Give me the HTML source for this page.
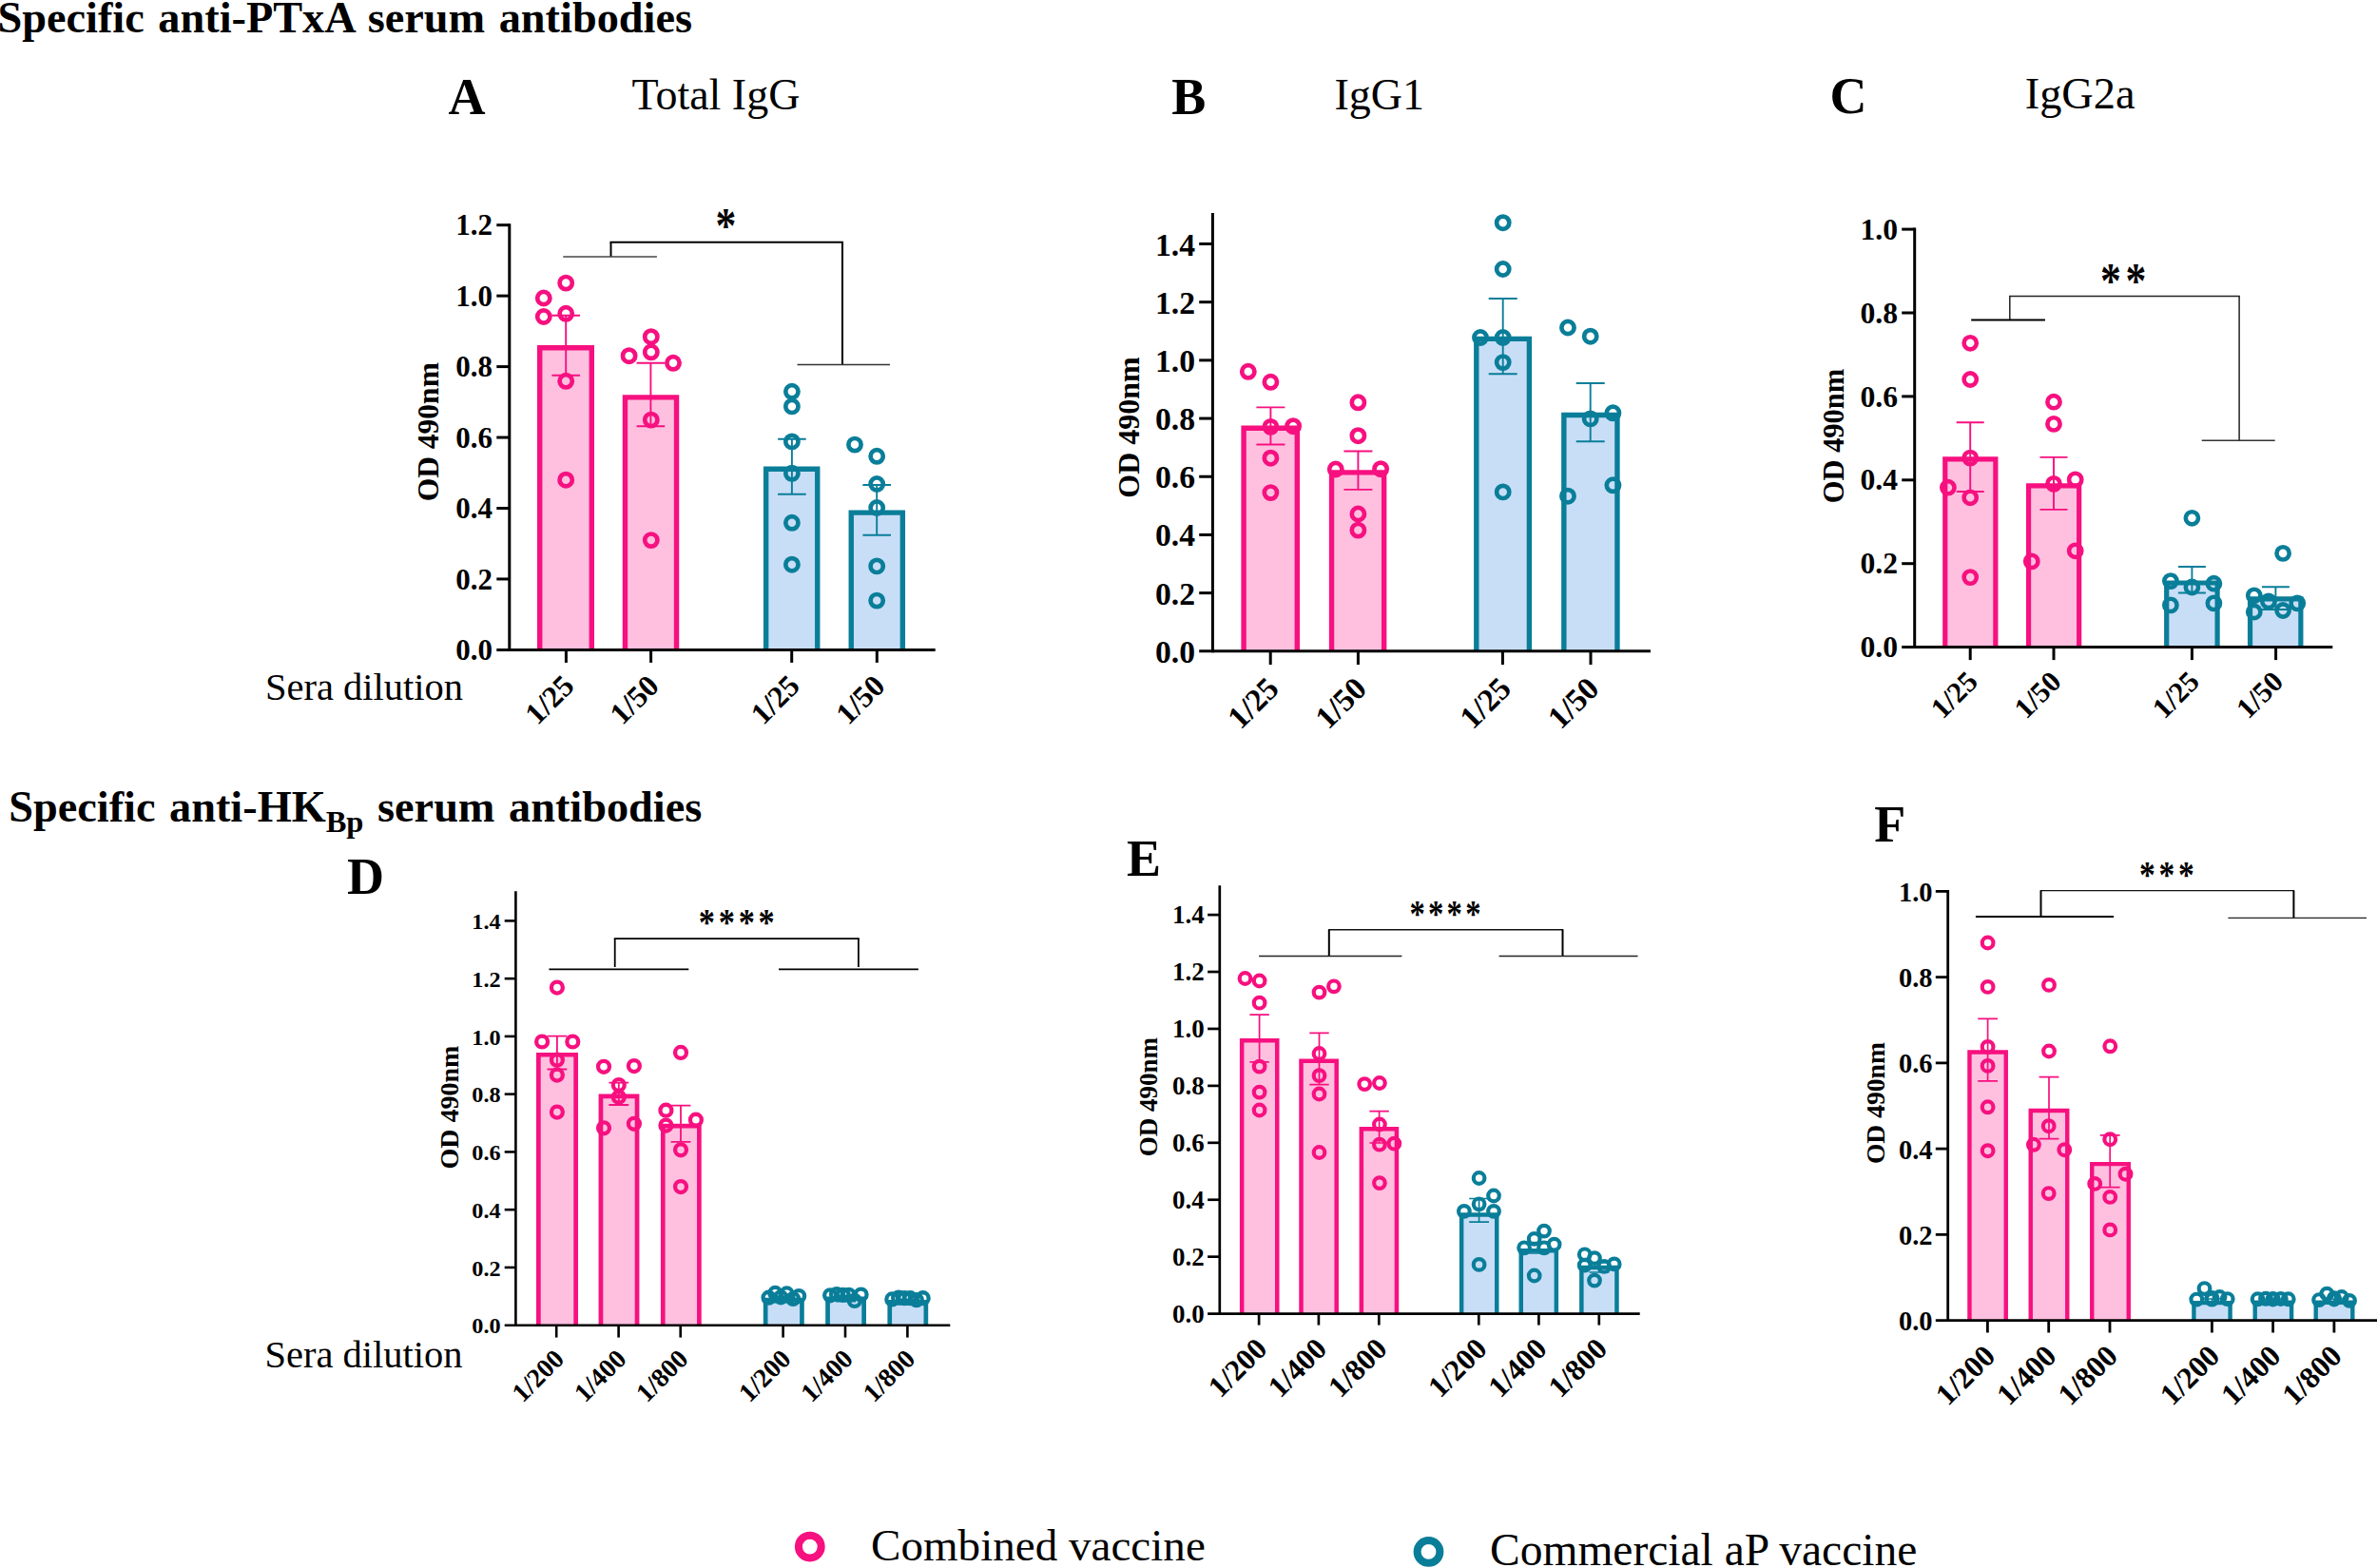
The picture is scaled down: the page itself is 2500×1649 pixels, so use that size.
<!DOCTYPE html>
<html lang="en"><head><meta charset="utf-8"><title>Specific serum antibodies</title>
<style>html,body{margin:0;padding:0;background:#fff}body{width:2500px;height:1649px;overflow:hidden}svg{display:block}text{font-family:'Liberation Serif', 'Times New Roman', Times, serif;fill:#000}</style></head><body>
<svg width="2500" height="1649" viewBox="0 0 2500 1649">
<rect width="2500" height="1649" fill="#fff"/>
<text x="-2.5" y="33.8" font-size="46.3" font-weight="bold" text-anchor="start" word-spacing="3">Specific anti-PTxA serum antibodies</text>
<text x="9.2" y="864" font-size="46.3" font-weight="bold" word-spacing="3">Specific anti-HK<tspan font-size="32.5" dy="10.8">Bp</tspan><tspan dy="-10.8"> serum antibodies</tspan></text>
<text x="471.4" y="119.7" font-size="54" font-weight="bold" text-anchor="start">A</text>
<text x="1232.3" y="119.7" font-size="54" font-weight="bold" text-anchor="start">B</text>
<text x="1924.4" y="119.2" font-size="54" font-weight="bold" text-anchor="start">C</text>
<text x="365" y="940" font-size="54" font-weight="bold" text-anchor="start">D</text>
<text x="1185.1" y="920.8" font-size="54" font-weight="bold" text-anchor="start">E</text>
<text x="1971.2" y="884.8" font-size="54" font-weight="bold" text-anchor="start">F</text>
<text x="664.5" y="114.6" font-size="46" text-anchor="start">Total IgG</text>
<text x="1403.5" y="114.6" font-size="46" text-anchor="start">IgG1</text>
<text x="2129.7" y="113.6" font-size="46.4" text-anchor="start">IgG2a</text>
<text x="279" y="736.2" font-size="40.5" text-anchor="start">Sera dilution</text>
<text x="278.5" y="1437.8" font-size="40.5" text-anchor="start">Sera dilution</text>
<g>
<path d="M567.7 683.4 V365.7 H622.3 V683.4" fill="#FFC0E0" stroke="#F7107F" stroke-width="5.4" stroke-linejoin="miter"/>
<path d="M657.45 683.4 V417.9 H711.55 V683.4" fill="#FFC0E0" stroke="#F7107F" stroke-width="5.4" stroke-linejoin="miter"/>
<path d="M805.65 683.4 V493.3 H859.75 V683.4" fill="#C8DEF7" stroke="#0A7E99" stroke-width="5.4" stroke-linejoin="miter"/>
<path d="M895.25 683.4 V539.1 H949.35 V683.4" fill="#C8DEF7" stroke="#0A7E99" stroke-width="5.4" stroke-linejoin="miter"/>
<path d="M595.2 331.8 V394.7 M580.4 331.8 H610 M580.4 394.7 H610" fill="none" stroke="#F7107F" stroke-width="1.9"/>
<path d="M684.4 381.8 V448.2 M669.6 381.8 H699.2 M669.6 448.2 H699.2" fill="none" stroke="#F7107F" stroke-width="1.9"/>
<path d="M832.9 461.8 V519.8 M818.1 461.8 H847.7 M818.1 519.8 H847.7" fill="none" stroke="#0A7E99" stroke-width="1.9"/>
<path d="M922.2 510 V562.7 M907.4 510 H937 M907.4 562.7 H937" fill="none" stroke="#0A7E99" stroke-width="1.9"/>
<g fill="none" stroke="#F7107F" stroke-width="4.7">
<circle cx="595.2" cy="297.6" r="6.6"/>
<circle cx="571.8" cy="313.5" r="6.6"/>
<circle cx="571.8" cy="333" r="6.6"/>
<circle cx="595.2" cy="329.8" r="6.6"/>
<circle cx="595.2" cy="400.8" r="6.6"/>
<circle cx="595.2" cy="504.7" r="6.6"/>
<circle cx="684.8" cy="354.2" r="6.6"/>
<circle cx="661.6" cy="374.2" r="6.6"/>
<circle cx="684.8" cy="370.3" r="6.6"/>
<circle cx="708" cy="381.8" r="6.6"/>
<circle cx="684.8" cy="441.6" r="6.6"/>
<circle cx="684.8" cy="568.1" r="6.6"/>
</g>
<g fill="none" stroke="#0A7E99" stroke-width="4.7">
<circle cx="832.9" cy="411.8" r="6.6"/>
<circle cx="832.9" cy="427.4" r="6.6"/>
<circle cx="832.9" cy="464.4" r="6.6"/>
<circle cx="832.9" cy="497.8" r="6.6"/>
<circle cx="832.9" cy="549.8" r="6.6"/>
<circle cx="832.9" cy="593.7" r="6.6"/>
<circle cx="899" cy="467.6" r="6.6"/>
<circle cx="922.2" cy="479.8" r="6.6"/>
<circle cx="922.2" cy="509" r="6.6"/>
<circle cx="922.2" cy="534" r="6.6"/>
<circle cx="922.2" cy="595.4" r="6.6"/>
<circle cx="922.2" cy="631.6" r="6.6"/>
</g>
<line x1="535.8" y1="235.2" x2="535.8" y2="684.9" stroke="#000" stroke-width="3" stroke-linecap="butt"/>
<line x1="522.3" y1="683.4" x2="983.7" y2="683.4" stroke="#000" stroke-width="3" stroke-linecap="butt"/>
<text transform="translate(518 694) scale(0.96 1)" font-size="32.3" font-weight="bold" text-anchor="end">0.0</text>
<line x1="522.3" y1="608.95" x2="535.8" y2="608.95" stroke="#000" stroke-width="3" stroke-linecap="butt"/>
<text transform="translate(518 619.55) scale(0.96 1)" font-size="32.3" font-weight="bold" text-anchor="end">0.2</text>
<line x1="522.3" y1="534.5" x2="535.8" y2="534.5" stroke="#000" stroke-width="3" stroke-linecap="butt"/>
<text transform="translate(518 545.1) scale(0.96 1)" font-size="32.3" font-weight="bold" text-anchor="end">0.4</text>
<line x1="522.3" y1="460.05" x2="535.8" y2="460.05" stroke="#000" stroke-width="3" stroke-linecap="butt"/>
<text transform="translate(518 470.65) scale(0.96 1)" font-size="32.3" font-weight="bold" text-anchor="end">0.6</text>
<line x1="522.3" y1="385.6" x2="535.8" y2="385.6" stroke="#000" stroke-width="3" stroke-linecap="butt"/>
<text transform="translate(518 396.2) scale(0.96 1)" font-size="32.3" font-weight="bold" text-anchor="end">0.8</text>
<line x1="522.3" y1="311.15" x2="535.8" y2="311.15" stroke="#000" stroke-width="3" stroke-linecap="butt"/>
<text transform="translate(518 321.75) scale(0.96 1)" font-size="32.3" font-weight="bold" text-anchor="end">1.0</text>
<line x1="522.3" y1="236.7" x2="535.8" y2="236.7" stroke="#000" stroke-width="3" stroke-linecap="butt"/>
<text transform="translate(518 247.3) scale(0.96 1)" font-size="32.3" font-weight="bold" text-anchor="end">1.2</text>
<line x1="595.4" y1="683.4" x2="595.4" y2="696.9" stroke="#000" stroke-width="3" stroke-linecap="butt"/>
<text transform="translate(597.9 715.5) rotate(-45)" x="0" y="10.82" font-size="32" font-weight="bold" text-anchor="end">1/25</text>
<line x1="684.6" y1="683.4" x2="684.6" y2="696.9" stroke="#000" stroke-width="3" stroke-linecap="butt"/>
<text transform="translate(687.1 715.5) rotate(-45)" x="0" y="10.82" font-size="32" font-weight="bold" text-anchor="end">1/50</text>
<line x1="832.7" y1="683.4" x2="832.7" y2="696.9" stroke="#000" stroke-width="3" stroke-linecap="butt"/>
<text transform="translate(835.2 715.5) rotate(-45)" x="0" y="10.82" font-size="32" font-weight="bold" text-anchor="end">1/25</text>
<line x1="922.3" y1="683.4" x2="922.3" y2="696.9" stroke="#000" stroke-width="3" stroke-linecap="butt"/>
<text transform="translate(924.8 715.5) rotate(-45)" x="0" y="10.82" font-size="32" font-weight="bold" text-anchor="end">1/50</text>
<text transform="translate(460.7 454.2) rotate(-90)" font-size="31.5" font-weight="bold" text-anchor="middle">OD 490nm</text>
<line x1="642.5" y1="254.8" x2="886" y2="254.8" stroke="#000" stroke-width="2" stroke-linecap="square"/>
<line x1="642.5" y1="254.8" x2="642.5" y2="270" stroke="#000" stroke-width="2" stroke-linecap="butt"/>
<line x1="886" y1="254.8" x2="886" y2="383.6" stroke="#000" stroke-width="2" stroke-linecap="butt"/>
<line x1="592.3" y1="270" x2="690.9" y2="270" stroke="#444" stroke-width="1.7" stroke-linecap="butt"/>
<line x1="838.5" y1="383.6" x2="936" y2="383.6" stroke="#333" stroke-width="1.5" stroke-linecap="butt"/>
<text transform="translate(763.3 255) scale(0.84 1)" font-size="52" font-weight="bold" text-anchor="middle" letter-spacing="0">*</text>
</g>
<g>
<path d="M1308.1 684.8 V450.2 H1364.3 V684.8" fill="#FFC0E0" stroke="#F7107F" stroke-width="5.4" stroke-linejoin="miter"/>
<path d="M1400.55 684.8 V496.9 H1455.65 V684.8" fill="#FFC0E0" stroke="#F7107F" stroke-width="5.4" stroke-linejoin="miter"/>
<path d="M1552.8 684.8 V356.4 H1608.4 V684.8" fill="#C8DEF7" stroke="#0A7E99" stroke-width="5.4" stroke-linejoin="miter"/>
<path d="M1644.85 684.8 V436.5 H1700.95 V684.8" fill="#C8DEF7" stroke="#0A7E99" stroke-width="5.4" stroke-linejoin="miter"/>
<path d="M1336.4 428.4 V467.5 M1321.4 428.4 H1351.4 M1321.4 467.5 H1351.4" fill="none" stroke="#F7107F" stroke-width="1.9"/>
<path d="M1428.4 474.5 V514.9 M1413.4 474.5 H1443.4 M1413.4 514.9 H1443.4" fill="none" stroke="#F7107F" stroke-width="1.9"/>
<path d="M1580.7 314 V393.3 M1565.7 314 H1595.7 M1565.7 393.3 H1595.7" fill="none" stroke="#0A7E99" stroke-width="1.9"/>
<path d="M1672.7 403 V464.3 M1657.7 403 H1687.7 M1657.7 464.3 H1687.7" fill="none" stroke="#0A7E99" stroke-width="1.9"/>
<g fill="none" stroke="#F7107F" stroke-width="4.7">
<circle cx="1312.8" cy="390.8" r="6.6"/>
<circle cx="1336.4" cy="401.8" r="6.6"/>
<circle cx="1336.4" cy="448.9" r="6.6"/>
<circle cx="1360.1" cy="448.2" r="6.6"/>
<circle cx="1336.4" cy="481.7" r="6.6"/>
<circle cx="1336.4" cy="518.1" r="6.6"/>
<circle cx="1428.4" cy="423.3" r="6.6"/>
<circle cx="1428.4" cy="458.2" r="6.6"/>
<circle cx="1404.8" cy="493.5" r="6.6"/>
<circle cx="1452.1" cy="493.2" r="6.6"/>
<circle cx="1428.4" cy="540.5" r="6.6"/>
<circle cx="1428.4" cy="557.6" r="6.6"/>
</g>
<g fill="none" stroke="#0A7E99" stroke-width="4.7">
<circle cx="1580.7" cy="234.2" r="6.6"/>
<circle cx="1580.7" cy="283" r="6.6"/>
<circle cx="1557" cy="355" r="6.6"/>
<circle cx="1580.7" cy="355" r="6.6"/>
<circle cx="1580.7" cy="381.1" r="6.6"/>
<circle cx="1580.7" cy="517.4" r="6.6"/>
<circle cx="1649" cy="344.5" r="6.6"/>
<circle cx="1672.7" cy="353.7" r="6.6"/>
<circle cx="1672.7" cy="440.4" r="6.6"/>
<circle cx="1696.4" cy="434.3" r="6.6"/>
<circle cx="1649" cy="521.7" r="6.6"/>
<circle cx="1696.4" cy="510.3" r="6.6"/>
</g>
<line x1="1275.4" y1="224" x2="1275.4" y2="686.3" stroke="#000" stroke-width="3" stroke-linecap="butt"/>
<line x1="1261.2" y1="684.8" x2="1735.9" y2="684.8" stroke="#000" stroke-width="3" stroke-linecap="butt"/>
<text transform="translate(1257 696.8) scale(0.98 1)" font-size="34.3" font-weight="bold" text-anchor="end">0.0</text>
<line x1="1261.2" y1="623.61" x2="1275.4" y2="623.61" stroke="#000" stroke-width="3" stroke-linecap="butt"/>
<text transform="translate(1257 635.61) scale(0.98 1)" font-size="34.3" font-weight="bold" text-anchor="end">0.2</text>
<line x1="1261.2" y1="562.43" x2="1275.4" y2="562.43" stroke="#000" stroke-width="3" stroke-linecap="butt"/>
<text transform="translate(1257 574.43) scale(0.98 1)" font-size="34.3" font-weight="bold" text-anchor="end">0.4</text>
<line x1="1261.2" y1="501.24" x2="1275.4" y2="501.24" stroke="#000" stroke-width="3" stroke-linecap="butt"/>
<text transform="translate(1257 513.24) scale(0.98 1)" font-size="34.3" font-weight="bold" text-anchor="end">0.6</text>
<line x1="1261.2" y1="440.06" x2="1275.4" y2="440.06" stroke="#000" stroke-width="3" stroke-linecap="butt"/>
<text transform="translate(1257 452.06) scale(0.98 1)" font-size="34.3" font-weight="bold" text-anchor="end">0.8</text>
<line x1="1261.2" y1="378.87" x2="1275.4" y2="378.87" stroke="#000" stroke-width="3" stroke-linecap="butt"/>
<text transform="translate(1257 390.87) scale(0.98 1)" font-size="34.3" font-weight="bold" text-anchor="end">1.0</text>
<line x1="1261.2" y1="317.69" x2="1275.4" y2="317.69" stroke="#000" stroke-width="3" stroke-linecap="butt"/>
<text transform="translate(1257 329.69) scale(0.98 1)" font-size="34.3" font-weight="bold" text-anchor="end">1.2</text>
<line x1="1261.2" y1="256.5" x2="1275.4" y2="256.5" stroke="#000" stroke-width="3" stroke-linecap="butt"/>
<text transform="translate(1257 268.5) scale(0.98 1)" font-size="34.3" font-weight="bold" text-anchor="end">1.4</text>
<line x1="1336.2" y1="684.8" x2="1336.2" y2="699" stroke="#000" stroke-width="3" stroke-linecap="butt"/>
<text transform="translate(1338.9 718.1) rotate(-45)" x="0" y="11.32" font-size="33.5" font-weight="bold" text-anchor="end">1/25</text>
<line x1="1428.4" y1="684.8" x2="1428.4" y2="699" stroke="#000" stroke-width="3" stroke-linecap="butt"/>
<text transform="translate(1431.1 718.1) rotate(-45)" x="0" y="11.32" font-size="33.5" font-weight="bold" text-anchor="end">1/50</text>
<line x1="1580.4" y1="684.8" x2="1580.4" y2="699" stroke="#000" stroke-width="3" stroke-linecap="butt"/>
<text transform="translate(1583.1 718.1) rotate(-45)" x="0" y="11.32" font-size="33.5" font-weight="bold" text-anchor="end">1/25</text>
<line x1="1673" y1="684.8" x2="1673" y2="699" stroke="#000" stroke-width="3" stroke-linecap="butt"/>
<text transform="translate(1675.7 718.1) rotate(-45)" x="0" y="11.32" font-size="33.5" font-weight="bold" text-anchor="end">1/50</text>
<text transform="translate(1198 449.5) rotate(-90)" font-size="32" font-weight="bold" text-anchor="middle">OD 490nm</text>
</g>
<g>
<path d="M2045.75 680.6 V482.9 H2098.85 V680.6" fill="#FFC0E0" stroke="#F7107F" stroke-width="5.2" stroke-linejoin="miter"/>
<path d="M2133.55 680.6 V510.8 H2186.65 V680.6" fill="#FFC0E0" stroke="#F7107F" stroke-width="5.2" stroke-linejoin="miter"/>
<path d="M2278.7 680.6 V613 H2332.1 V680.6" fill="#C8DEF7" stroke="#0A7E99" stroke-width="5.2" stroke-linejoin="miter"/>
<path d="M2366.55 680.6 V629.9 H2419.85 V680.6" fill="#C8DEF7" stroke="#0A7E99" stroke-width="5.2" stroke-linejoin="miter"/>
<path d="M2072.2 444.3 V517 M2057.7 444.3 H2086.7 M2057.7 517 H2086.7" fill="none" stroke="#F7107F" stroke-width="1.9"/>
<path d="M2160 480.9 V535.9 M2145.5 480.9 H2174.5 M2145.5 535.9 H2174.5" fill="none" stroke="#F7107F" stroke-width="1.9"/>
<path d="M2305.4 596 V623.5 M2290.9 596 H2319.9 M2290.9 623.5 H2319.9" fill="none" stroke="#0A7E99" stroke-width="1.9"/>
<path d="M2393.4 617.2 V641 M2378.9 617.2 H2407.9 M2378.9 641 H2407.9" fill="none" stroke="#0A7E99" stroke-width="1.9"/>
<g fill="none" stroke="#F7107F" stroke-width="4.6">
<circle cx="2072.2" cy="360.8" r="6.6"/>
<circle cx="2072.2" cy="399" r="6.6"/>
<circle cx="2072.2" cy="481.6" r="6.6"/>
<circle cx="2048.9" cy="512.7" r="6.6"/>
<circle cx="2072.2" cy="523.3" r="6.6"/>
<circle cx="2072.2" cy="607.1" r="6.6"/>
<circle cx="2160" cy="422.7" r="6.6"/>
<circle cx="2160" cy="445.9" r="6.6"/>
<circle cx="2160" cy="508.9" r="6.6"/>
<circle cx="2182.7" cy="504.4" r="6.6"/>
<circle cx="2182.7" cy="579.3" r="6.6"/>
<circle cx="2136.8" cy="590.4" r="6.6"/>
</g>
<g fill="none" stroke="#0A7E99" stroke-width="4.6">
<circle cx="2305.4" cy="544.8" r="6.6"/>
<circle cx="2282.9" cy="611.1" r="6.6"/>
<circle cx="2305.4" cy="617.5" r="6.6"/>
<circle cx="2328.4" cy="613.7" r="6.6"/>
<circle cx="2282.9" cy="636.4" r="6.6"/>
<circle cx="2328.4" cy="634.4" r="6.6"/>
<circle cx="2401.1" cy="581.9" r="6.6"/>
<circle cx="2370.8" cy="626.3" r="6.6"/>
<circle cx="2385.9" cy="632.4" r="6.6"/>
<circle cx="2416.2" cy="634.4" r="6.6"/>
<circle cx="2370.8" cy="643.5" r="6.6"/>
<circle cx="2401.1" cy="642" r="6.6"/>
</g>
<line x1="2013.7" y1="239.6" x2="2013.7" y2="682.1" stroke="#000" stroke-width="3" stroke-linecap="butt"/>
<line x1="2000.2" y1="680.6" x2="2453.3" y2="680.6" stroke="#000" stroke-width="3" stroke-linecap="butt"/>
<text transform="translate(1996 691.2) scale(1.03 1)" font-size="30.7" font-weight="bold" text-anchor="end">0.0</text>
<line x1="2000.2" y1="592.7" x2="2013.7" y2="592.7" stroke="#000" stroke-width="3" stroke-linecap="butt"/>
<text transform="translate(1996 603.3) scale(1.03 1)" font-size="30.7" font-weight="bold" text-anchor="end">0.2</text>
<line x1="2000.2" y1="504.8" x2="2013.7" y2="504.8" stroke="#000" stroke-width="3" stroke-linecap="butt"/>
<text transform="translate(1996 515.4) scale(1.03 1)" font-size="30.7" font-weight="bold" text-anchor="end">0.4</text>
<line x1="2000.2" y1="416.9" x2="2013.7" y2="416.9" stroke="#000" stroke-width="3" stroke-linecap="butt"/>
<text transform="translate(1996 427.5) scale(1.03 1)" font-size="30.7" font-weight="bold" text-anchor="end">0.6</text>
<line x1="2000.2" y1="329" x2="2013.7" y2="329" stroke="#000" stroke-width="3" stroke-linecap="butt"/>
<text transform="translate(1996 339.6) scale(1.03 1)" font-size="30.7" font-weight="bold" text-anchor="end">0.8</text>
<line x1="2000.2" y1="241.1" x2="2013.7" y2="241.1" stroke="#000" stroke-width="3" stroke-linecap="butt"/>
<text transform="translate(1996 251.7) scale(1.03 1)" font-size="30.7" font-weight="bold" text-anchor="end">1.0</text>
<line x1="2072.2" y1="680.6" x2="2072.2" y2="694.1" stroke="#000" stroke-width="3" stroke-linecap="butt"/>
<text transform="translate(2074.4 711.4) rotate(-45)" x="0" y="10.38" font-size="30.7" font-weight="bold" text-anchor="end">1/25</text>
<line x1="2160" y1="680.6" x2="2160" y2="694.1" stroke="#000" stroke-width="3" stroke-linecap="butt"/>
<text transform="translate(2162.2 711.4) rotate(-45)" x="0" y="10.38" font-size="30.7" font-weight="bold" text-anchor="end">1/50</text>
<line x1="2305.4" y1="680.6" x2="2305.4" y2="694.1" stroke="#000" stroke-width="3" stroke-linecap="butt"/>
<text transform="translate(2307.6 711.4) rotate(-45)" x="0" y="10.38" font-size="30.7" font-weight="bold" text-anchor="end">1/25</text>
<line x1="2393.6" y1="680.6" x2="2393.6" y2="694.1" stroke="#000" stroke-width="3" stroke-linecap="butt"/>
<text transform="translate(2395.8 711.4) rotate(-45)" x="0" y="10.38" font-size="30.7" font-weight="bold" text-anchor="end">1/50</text>
<text transform="translate(1938.8 458.5) rotate(-90)" font-size="30.5" font-weight="bold" text-anchor="middle">OD 490nm</text>
<line x1="2113.8" y1="311.6" x2="2355.1" y2="311.6" stroke="#222" stroke-width="1.5" stroke-linecap="square"/>
<line x1="2113.8" y1="311.6" x2="2113.8" y2="336.6" stroke="#222" stroke-width="1.5" stroke-linecap="butt"/>
<line x1="2355.1" y1="311.6" x2="2355.1" y2="463" stroke="#222" stroke-width="1.5" stroke-linecap="butt"/>
<line x1="2073.2" y1="336.6" x2="2150.9" y2="336.6" stroke="#000" stroke-width="2" stroke-linecap="butt"/>
<line x1="2315.7" y1="463.2" x2="2392.7" y2="463.2" stroke="#333" stroke-width="1.4" stroke-linecap="butt"/>
<text transform="translate(2235.47 312.8) scale(0.84 1)" font-size="52" font-weight="bold" text-anchor="middle" letter-spacing="5.4">**</text>
</g>
<g>
<path d="M566.35 1393.7 V1109.25 H605.65 V1393.7" fill="#FFC0E0" stroke="#F7107F" stroke-width="4.7" stroke-linejoin="miter"/>
<path d="M631.95 1393.7 V1152.95 H670.05 V1393.7" fill="#FFC0E0" stroke="#F7107F" stroke-width="4.7" stroke-linejoin="miter"/>
<path d="M697.25 1393.7 V1184.15 H735.35 V1393.7" fill="#FFC0E0" stroke="#F7107F" stroke-width="4.7" stroke-linejoin="miter"/>
<path d="M805.15 1393.7 V1367.05 H843.45 V1393.7" fill="#C8DEF7" stroke="#0A7E99" stroke-width="4.7" stroke-linejoin="miter"/>
<path d="M870.55 1393.7 V1365.85 H908.65 V1393.7" fill="#C8DEF7" stroke="#0A7E99" stroke-width="4.7" stroke-linejoin="miter"/>
<path d="M935.75 1393.7 V1369.35 H973.85 V1393.7" fill="#C8DEF7" stroke="#0A7E99" stroke-width="4.7" stroke-linejoin="miter"/>
<path d="M585.9 1089.6 V1124.5 M575.5 1089.6 H596.3 M575.5 1124.5 H596.3" fill="none" stroke="#F7107F" stroke-width="1.8"/>
<path d="M650.8 1138.7 V1162 M640.4 1138.7 H661.2 M640.4 1162 H661.2" fill="none" stroke="#F7107F" stroke-width="1.8"/>
<path d="M716 1162.6 V1200.8 M705.6 1162.6 H726.4 M705.6 1200.8 H726.4" fill="none" stroke="#F7107F" stroke-width="1.8"/>
<path d="M824.3 1363.5 V1369.5 M813.9 1363.5 H834.7 M813.9 1369.5 H834.7" fill="none" stroke="#0A7E99" stroke-width="1.8"/>
<path d="M889.6 1362.5 V1368.5 M879.2 1362.5 H900 M879.2 1368.5 H900" fill="none" stroke="#0A7E99" stroke-width="1.8"/>
<path d="M954.8 1366.5 V1371.5 M944.4 1366.5 H965.2 M944.4 1371.5 H965.2" fill="none" stroke="#0A7E99" stroke-width="1.8"/>
<g fill="none" stroke="#F7107F" stroke-width="4.3">
<circle cx="585.9" cy="1038.6" r="5.95"/>
<circle cx="570.1" cy="1095.5" r="5.95"/>
<circle cx="602.3" cy="1095.5" r="5.95"/>
<circle cx="585.9" cy="1114.7" r="5.95"/>
<circle cx="585.9" cy="1130.6" r="5.95"/>
<circle cx="585.9" cy="1169.6" r="5.95"/>
<circle cx="635" cy="1121.8" r="5.95"/>
<circle cx="666.9" cy="1121.1" r="5.95"/>
<circle cx="650.8" cy="1141.1" r="5.95"/>
<circle cx="650.8" cy="1153.8" r="5.95"/>
<circle cx="666.9" cy="1181.8" r="5.95"/>
<circle cx="635" cy="1186.3" r="5.95"/>
<circle cx="716" cy="1106.9" r="5.95"/>
<circle cx="700.4" cy="1167.7" r="5.95"/>
<circle cx="731.9" cy="1177.7" r="5.95"/>
<circle cx="700.4" cy="1183.6" r="5.95"/>
<circle cx="716" cy="1209.3" r="5.95"/>
<circle cx="716" cy="1248.1" r="5.95"/>
</g>
<g fill="none" stroke="#0A7E99" stroke-width="4.3">
<circle cx="808.5" cy="1364.7" r="5.95"/>
<circle cx="815.3" cy="1359.9" r="5.95"/>
<circle cx="821.2" cy="1364.3" r="5.95"/>
<circle cx="827.5" cy="1360.4" r="5.95"/>
<circle cx="834.1" cy="1366" r="5.95"/>
<circle cx="840.2" cy="1363" r="5.95"/>
<circle cx="873.1" cy="1362.3" r="5.95"/>
<circle cx="880" cy="1361.1" r="5.95"/>
<circle cx="886.6" cy="1361.8" r="5.95"/>
<circle cx="892.7" cy="1361.8" r="5.95"/>
<circle cx="898.8" cy="1367.9" r="5.95"/>
<circle cx="905.6" cy="1361.6" r="5.95"/>
<circle cx="938.3" cy="1366.4" r="5.95"/>
<circle cx="945.1" cy="1364.7" r="5.95"/>
<circle cx="951.2" cy="1365.2" r="5.95"/>
<circle cx="957.3" cy="1365.2" r="5.95"/>
<circle cx="963.9" cy="1367.2" r="5.95"/>
<circle cx="970.7" cy="1365.2" r="5.95"/>
</g>
<line x1="542.4" y1="937.3" x2="542.4" y2="1395" stroke="#000" stroke-width="2.6" stroke-linecap="butt"/>
<line x1="530.7" y1="1393.7" x2="999.3" y2="1393.7" stroke="#000" stroke-width="2.6" stroke-linecap="butt"/>
<text transform="translate(526.6 1402.4) scale(1.01 1)" font-size="24" font-weight="bold" text-anchor="end">0.0</text>
<line x1="530.7" y1="1332.94" x2="542.4" y2="1332.94" stroke="#000" stroke-width="2.6" stroke-linecap="butt"/>
<text transform="translate(526.6 1341.64) scale(1.01 1)" font-size="24" font-weight="bold" text-anchor="end">0.2</text>
<line x1="530.7" y1="1272.19" x2="542.4" y2="1272.19" stroke="#000" stroke-width="2.6" stroke-linecap="butt"/>
<text transform="translate(526.6 1280.89) scale(1.01 1)" font-size="24" font-weight="bold" text-anchor="end">0.4</text>
<line x1="530.7" y1="1211.43" x2="542.4" y2="1211.43" stroke="#000" stroke-width="2.6" stroke-linecap="butt"/>
<text transform="translate(526.6 1220.13) scale(1.01 1)" font-size="24" font-weight="bold" text-anchor="end">0.6</text>
<line x1="530.7" y1="1150.67" x2="542.4" y2="1150.67" stroke="#000" stroke-width="2.6" stroke-linecap="butt"/>
<text transform="translate(526.6 1159.37) scale(1.01 1)" font-size="24" font-weight="bold" text-anchor="end">0.8</text>
<line x1="530.7" y1="1089.91" x2="542.4" y2="1089.91" stroke="#000" stroke-width="2.6" stroke-linecap="butt"/>
<text transform="translate(526.6 1098.61) scale(1.01 1)" font-size="24" font-weight="bold" text-anchor="end">1.0</text>
<line x1="530.7" y1="1029.16" x2="542.4" y2="1029.16" stroke="#000" stroke-width="2.6" stroke-linecap="butt"/>
<text transform="translate(526.6 1037.86) scale(1.01 1)" font-size="24" font-weight="bold" text-anchor="end">1.2</text>
<line x1="530.7" y1="968.4" x2="542.4" y2="968.4" stroke="#000" stroke-width="2.6" stroke-linecap="butt"/>
<text transform="translate(526.6 977.1) scale(1.01 1)" font-size="24" font-weight="bold" text-anchor="end">1.4</text>
<line x1="585.2" y1="1393.7" x2="585.2" y2="1406.6" stroke="#000" stroke-width="2.6" stroke-linecap="butt"/>
<text transform="translate(588.2 1424.1) rotate(-45)" x="0" y="9.46" font-size="28" font-weight="bold" text-anchor="end">1/200</text>
<line x1="650.6" y1="1393.7" x2="650.6" y2="1406.6" stroke="#000" stroke-width="2.6" stroke-linecap="butt"/>
<text transform="translate(653.6 1424.1) rotate(-45)" x="0" y="9.46" font-size="28" font-weight="bold" text-anchor="end">1/400</text>
<line x1="715.7" y1="1393.7" x2="715.7" y2="1406.6" stroke="#000" stroke-width="2.6" stroke-linecap="butt"/>
<text transform="translate(718.7 1424.1) rotate(-45)" x="0" y="9.46" font-size="28" font-weight="bold" text-anchor="end">1/800</text>
<line x1="823.6" y1="1393.7" x2="823.6" y2="1406.6" stroke="#000" stroke-width="2.6" stroke-linecap="butt"/>
<text transform="translate(826.6 1424.1) rotate(-45)" x="0" y="9.46" font-size="28" font-weight="bold" text-anchor="end">1/200</text>
<line x1="889" y1="1393.7" x2="889" y2="1406.6" stroke="#000" stroke-width="2.6" stroke-linecap="butt"/>
<text transform="translate(892 1424.1) rotate(-45)" x="0" y="9.46" font-size="28" font-weight="bold" text-anchor="end">1/400</text>
<line x1="954.4" y1="1393.7" x2="954.4" y2="1406.6" stroke="#000" stroke-width="2.6" stroke-linecap="butt"/>
<text transform="translate(957.4 1424.1) rotate(-45)" x="0" y="9.46" font-size="28" font-weight="bold" text-anchor="end">1/800</text>
<text transform="translate(481.5 1164.6) rotate(-90)" font-size="28" font-weight="bold" text-anchor="middle">OD 490nm</text>
<line x1="646.7" y1="987.1" x2="902.9" y2="987.1" stroke="#000" stroke-width="1.8" stroke-linecap="square"/>
<line x1="646.7" y1="987.1" x2="646.7" y2="1017" stroke="#000" stroke-width="1.8" stroke-linecap="butt"/>
<line x1="902.9" y1="987.1" x2="902.9" y2="1017" stroke="#000" stroke-width="1.8" stroke-linecap="butt"/>
<line x1="577.4" y1="1019.3" x2="724.3" y2="1019.3" stroke="#000" stroke-width="1.8" stroke-linecap="butt"/>
<line x1="819" y1="1019.3" x2="965.9" y2="1019.3" stroke="#000" stroke-width="1.8" stroke-linecap="butt"/>
<text transform="translate(776.65 983) scale(0.84 1)" font-size="41" font-weight="bold" text-anchor="middle" letter-spacing="4.4">****</text>
</g>
<g>
<path d="M1306.15 1381.6 V1094.35 H1343.25 V1381.6" fill="#FFC0E0" stroke="#F7107F" stroke-width="4.5" stroke-linejoin="miter"/>
<path d="M1368.5 1381.6 V1115.85 H1405.7 V1381.6" fill="#FFC0E0" stroke="#F7107F" stroke-width="4.5" stroke-linejoin="miter"/>
<path d="M1431.85 1381.6 V1187.25 H1468.95 V1381.6" fill="#FFC0E0" stroke="#F7107F" stroke-width="4.5" stroke-linejoin="miter"/>
<path d="M1537.15 1381.6 V1277.45 H1574.25 V1381.6" fill="#C8DEF7" stroke="#0A7E99" stroke-width="4.5" stroke-linejoin="miter"/>
<path d="M1599.75 1381.6 V1315.25 H1636.85 V1381.6" fill="#C8DEF7" stroke="#0A7E99" stroke-width="4.5" stroke-linejoin="miter"/>
<path d="M1663.35 1381.6 V1332.95 H1700.45 V1381.6" fill="#C8DEF7" stroke="#0A7E99" stroke-width="4.5" stroke-linejoin="miter"/>
<path d="M1324.6 1067.1 V1116.8 M1314.4 1067.1 H1334.8 M1314.4 1116.8 H1334.8" fill="none" stroke="#F7107F" stroke-width="1.7"/>
<path d="M1387.5 1086.3 V1140.6 M1377.3 1086.3 H1397.7 M1377.3 1140.6 H1397.7" fill="none" stroke="#F7107F" stroke-width="1.7"/>
<path d="M1450.6 1168.6 V1202 M1440.4 1168.6 H1460.8 M1440.4 1202 H1460.8" fill="none" stroke="#F7107F" stroke-width="1.7"/>
<path d="M1555.6 1260.5 V1285.2 M1545.2 1260.5 H1566 M1545.2 1285.2 H1566" fill="none" stroke="#0A7E99" stroke-width="1.7"/>
<path d="M1618.3 1306.7 V1318 M1607.9 1306.7 H1628.7 M1607.9 1318 H1628.7" fill="none" stroke="#0A7E99" stroke-width="1.7"/>
<path d="M1681.9 1328 V1338 M1671.5 1328 H1692.3 M1671.5 1338 H1692.3" fill="none" stroke="#0A7E99" stroke-width="1.7"/>
<g fill="none" stroke="#F7107F" stroke-width="4.2">
<circle cx="1309.5" cy="1029" r="5.8"/>
<circle cx="1324.6" cy="1031.5" r="5.8"/>
<circle cx="1324.6" cy="1054.7" r="5.8"/>
<circle cx="1324.6" cy="1121.6" r="5.8"/>
<circle cx="1324.6" cy="1148.6" r="5.8"/>
<circle cx="1324.6" cy="1167.5" r="5.8"/>
<circle cx="1387.5" cy="1043.6" r="5.8"/>
<circle cx="1402.9" cy="1037.3" r="5.8"/>
<circle cx="1387.5" cy="1108" r="5.8"/>
<circle cx="1387.5" cy="1131.2" r="5.8"/>
<circle cx="1387.5" cy="1150.5" r="5.8"/>
<circle cx="1387.5" cy="1212" r="5.8"/>
<circle cx="1435.2" cy="1140.1" r="5.8"/>
<circle cx="1450.9" cy="1139" r="5.8"/>
<circle cx="1450.9" cy="1182.5" r="5.8"/>
<circle cx="1450.9" cy="1203.7" r="5.8"/>
<circle cx="1466.3" cy="1202.7" r="5.8"/>
<circle cx="1450.9" cy="1244.1" r="5.8"/>
</g>
<g fill="none" stroke="#0A7E99" stroke-width="4.2">
<circle cx="1555.6" cy="1239" r="5.8"/>
<circle cx="1571" cy="1257.5" r="5.8"/>
<circle cx="1555.6" cy="1266.3" r="5.8"/>
<circle cx="1539.9" cy="1273.9" r="5.8"/>
<circle cx="1571" cy="1273.9" r="5.8"/>
<circle cx="1555.6" cy="1329.9" r="5.8"/>
<circle cx="1624" cy="1294.6" r="5.8"/>
<circle cx="1613.7" cy="1302.9" r="5.8"/>
<circle cx="1634.6" cy="1308.7" r="5.8"/>
<circle cx="1603.1" cy="1312.3" r="5.8"/>
<circle cx="1624" cy="1312.3" r="5.8"/>
<circle cx="1613.7" cy="1341.5" r="5.8"/>
<circle cx="1666.7" cy="1319.3" r="5.8"/>
<circle cx="1677" cy="1323.1" r="5.8"/>
<circle cx="1697.7" cy="1329.4" r="5.8"/>
<circle cx="1666.7" cy="1330.7" r="5.8"/>
<circle cx="1687.1" cy="1331.9" r="5.8"/>
<circle cx="1677" cy="1346.6" r="5.8"/>
</g>
<line x1="1282.8" y1="931.3" x2="1282.8" y2="1382.95" stroke="#000" stroke-width="2.7" stroke-linecap="butt"/>
<line x1="1270.15" y1="1381.6" x2="1724.7" y2="1381.6" stroke="#000" stroke-width="2.7" stroke-linecap="butt"/>
<text transform="translate(1266.6 1390.8) scale(0.99 1)" font-size="27.2" font-weight="bold" text-anchor="end">0.0</text>
<line x1="1270.15" y1="1321.67" x2="1282.8" y2="1321.67" stroke="#000" stroke-width="2.7" stroke-linecap="butt"/>
<text transform="translate(1266.6 1330.87) scale(0.99 1)" font-size="27.2" font-weight="bold" text-anchor="end">0.2</text>
<line x1="1270.15" y1="1261.74" x2="1282.8" y2="1261.74" stroke="#000" stroke-width="2.7" stroke-linecap="butt"/>
<text transform="translate(1266.6 1270.94) scale(0.99 1)" font-size="27.2" font-weight="bold" text-anchor="end">0.4</text>
<line x1="1270.15" y1="1201.81" x2="1282.8" y2="1201.81" stroke="#000" stroke-width="2.7" stroke-linecap="butt"/>
<text transform="translate(1266.6 1211.01) scale(0.99 1)" font-size="27.2" font-weight="bold" text-anchor="end">0.6</text>
<line x1="1270.15" y1="1141.89" x2="1282.8" y2="1141.89" stroke="#000" stroke-width="2.7" stroke-linecap="butt"/>
<text transform="translate(1266.6 1151.09) scale(0.99 1)" font-size="27.2" font-weight="bold" text-anchor="end">0.8</text>
<line x1="1270.15" y1="1081.96" x2="1282.8" y2="1081.96" stroke="#000" stroke-width="2.7" stroke-linecap="butt"/>
<text transform="translate(1266.6 1091.16) scale(0.99 1)" font-size="27.2" font-weight="bold" text-anchor="end">1.0</text>
<line x1="1270.15" y1="1022.03" x2="1282.8" y2="1022.03" stroke="#000" stroke-width="2.7" stroke-linecap="butt"/>
<text transform="translate(1266.6 1031.23) scale(0.99 1)" font-size="27.2" font-weight="bold" text-anchor="end">1.2</text>
<line x1="1270.15" y1="962.1" x2="1282.8" y2="962.1" stroke="#000" stroke-width="2.7" stroke-linecap="butt"/>
<text transform="translate(1266.6 971.3) scale(0.99 1)" font-size="27.2" font-weight="bold" text-anchor="end">1.4</text>
<line x1="1324.1" y1="1381.6" x2="1324.1" y2="1393.55" stroke="#000" stroke-width="2.7" stroke-linecap="butt"/>
<text transform="translate(1326.8 1412.85) rotate(-45)" x="0" y="10.65" font-size="31.5" font-weight="bold" text-anchor="end">1/200</text>
<line x1="1386.9" y1="1381.6" x2="1386.9" y2="1393.55" stroke="#000" stroke-width="2.7" stroke-linecap="butt"/>
<text transform="translate(1389.6 1412.85) rotate(-45)" x="0" y="10.65" font-size="31.5" font-weight="bold" text-anchor="end">1/400</text>
<line x1="1450.3" y1="1381.6" x2="1450.3" y2="1393.55" stroke="#000" stroke-width="2.7" stroke-linecap="butt"/>
<text transform="translate(1453 1412.85) rotate(-45)" x="0" y="10.65" font-size="31.5" font-weight="bold" text-anchor="end">1/800</text>
<line x1="1555.3" y1="1381.6" x2="1555.3" y2="1393.55" stroke="#000" stroke-width="2.7" stroke-linecap="butt"/>
<text transform="translate(1558 1412.85) rotate(-45)" x="0" y="10.65" font-size="31.5" font-weight="bold" text-anchor="end">1/200</text>
<line x1="1618.4" y1="1381.6" x2="1618.4" y2="1393.55" stroke="#000" stroke-width="2.7" stroke-linecap="butt"/>
<text transform="translate(1621.1 1412.85) rotate(-45)" x="0" y="10.65" font-size="31.5" font-weight="bold" text-anchor="end">1/400</text>
<line x1="1681.8" y1="1381.6" x2="1681.8" y2="1393.55" stroke="#000" stroke-width="2.7" stroke-linecap="butt"/>
<text transform="translate(1684.5 1412.85) rotate(-45)" x="0" y="10.65" font-size="31.5" font-weight="bold" text-anchor="end">1/800</text>
<text transform="translate(1217 1153.6) rotate(-90)" font-size="27" font-weight="bold" text-anchor="middle">OD 490nm</text>
<line x1="1397.8" y1="977.7" x2="1643.5" y2="977.7" stroke="#111" stroke-width="1.4" stroke-linecap="square"/>
<line x1="1397.8" y1="977.7" x2="1397.8" y2="1005.5" stroke="#000" stroke-width="2" stroke-linecap="butt"/>
<line x1="1643.5" y1="977.7" x2="1643.5" y2="1005.5" stroke="#000" stroke-width="2" stroke-linecap="butt"/>
<line x1="1324.1" y1="1005.5" x2="1474.4" y2="1005.5" stroke="#222" stroke-width="1.4" stroke-linecap="butt"/>
<line x1="1576.6" y1="1005.5" x2="1722.5" y2="1005.5" stroke="#222" stroke-width="1.4" stroke-linecap="butt"/>
<text transform="translate(1521.6 974) scale(0.84 1)" font-size="39" font-weight="bold" text-anchor="middle" letter-spacing="3.8">****</text>
</g>
<g>
<path d="M2071.45 1388.6 V1106.5 H2109.75 V1388.6" fill="#FFC0E0" stroke="#F7107F" stroke-width="4.4" stroke-linejoin="miter"/>
<path d="M2135.75 1388.6 V1168 H2174.25 V1388.6" fill="#FFC0E0" stroke="#F7107F" stroke-width="4.4" stroke-linejoin="miter"/>
<path d="M2200.25 1388.6 V1224.1 H2238.75 V1388.6" fill="#FFC0E0" stroke="#F7107F" stroke-width="4.4" stroke-linejoin="miter"/>
<path d="M2307.4 1388.6 V1370.1 H2345.6 V1388.6" fill="#C8DEF7" stroke="#0A7E99" stroke-width="4.4" stroke-linejoin="miter"/>
<path d="M2371.7 1388.6 V1369.7 H2410.1 V1388.6" fill="#C8DEF7" stroke="#0A7E99" stroke-width="4.4" stroke-linejoin="miter"/>
<path d="M2435.7 1388.6 V1369.7 H2474.3 V1388.6" fill="#C8DEF7" stroke="#0A7E99" stroke-width="4.4" stroke-linejoin="miter"/>
<path d="M2090.6 1071.3 V1136.9 M2080.2 1071.3 H2101 M2080.2 1136.9 H2101" fill="none" stroke="#F7107F" stroke-width="1.7"/>
<path d="M2155 1132.7 V1197.7 M2144.6 1132.7 H2165.4 M2144.6 1197.7 H2165.4" fill="none" stroke="#F7107F" stroke-width="1.7"/>
<path d="M2219.2 1193.9 V1248.7 M2208.8 1193.9 H2229.6 M2208.8 1248.7 H2229.6" fill="none" stroke="#F7107F" stroke-width="1.7"/>
<path d="M2326.5 1366 V1371 M2316.1 1366 H2336.9 M2316.1 1371 H2336.9" fill="none" stroke="#0A7E99" stroke-width="1.7"/>
<path d="M2390.9 1366.5 V1370.5 M2380.5 1366.5 H2401.3 M2380.5 1370.5 H2401.3" fill="none" stroke="#0A7E99" stroke-width="1.7"/>
<path d="M2455 1366 V1371 M2444.6 1366 H2465.4 M2444.6 1371 H2465.4" fill="none" stroke="#0A7E99" stroke-width="1.7"/>
<g fill="none" stroke="#F7107F" stroke-width="4.2">
<circle cx="2090.6" cy="991.5" r="5.85"/>
<circle cx="2090.6" cy="1037.9" r="5.85"/>
<circle cx="2090.6" cy="1100.9" r="5.85"/>
<circle cx="2090.6" cy="1120.9" r="5.85"/>
<circle cx="2090.6" cy="1164.3" r="5.85"/>
<circle cx="2090.6" cy="1210.2" r="5.85"/>
<circle cx="2155" cy="1035.9" r="5.85"/>
<circle cx="2155" cy="1105.5" r="5.85"/>
<circle cx="2154.7" cy="1184.2" r="5.85"/>
<circle cx="2138.9" cy="1203.8" r="5.85"/>
<circle cx="2171.3" cy="1209.2" r="5.85"/>
<circle cx="2154.7" cy="1255.1" r="5.85"/>
<circle cx="2219.3" cy="1100.3" r="5.85"/>
<circle cx="2219.2" cy="1198.2" r="5.85"/>
<circle cx="2235.5" cy="1234.7" r="5.85"/>
<circle cx="2203.2" cy="1244.9" r="5.85"/>
<circle cx="2219.2" cy="1258.9" r="5.85"/>
<circle cx="2219.2" cy="1293.4" r="5.85"/>
</g>
<g fill="none" stroke="#0A7E99" stroke-width="4.2">
<circle cx="2310.3" cy="1366.6" r="5.85"/>
<circle cx="2318.5" cy="1355.1" r="5.85"/>
<circle cx="2326.4" cy="1366.6" r="5.85"/>
<circle cx="2334.5" cy="1364" r="5.85"/>
<circle cx="2342.7" cy="1366.1" r="5.85"/>
<circle cx="2326.4" cy="1365" r="5.85"/>
<circle cx="2374.6" cy="1366.3" r="5.85"/>
<circle cx="2383" cy="1365.8" r="5.85"/>
<circle cx="2390.6" cy="1366" r="5.85"/>
<circle cx="2398.8" cy="1366" r="5.85"/>
<circle cx="2406.7" cy="1366.3" r="5.85"/>
<circle cx="2390.6" cy="1366.5" r="5.85"/>
<circle cx="2439.1" cy="1367.1" r="5.85"/>
<circle cx="2447.3" cy="1360.7" r="5.85"/>
<circle cx="2454.9" cy="1365.3" r="5.85"/>
<circle cx="2462.8" cy="1364" r="5.85"/>
<circle cx="2471" cy="1367.9" r="5.85"/>
<circle cx="2454.9" cy="1366.5" r="5.85"/>
</g>
<line x1="2048.7" y1="936" x2="2048.7" y2="1390" stroke="#000" stroke-width="2.8" stroke-linecap="butt"/>
<line x1="2035.8" y1="1388.6" x2="2500" y2="1388.6" stroke="#000" stroke-width="2.8" stroke-linecap="butt"/>
<text transform="translate(2032.6 1399) scale(0.95 1)" font-size="30" font-weight="bold" text-anchor="end">0.0</text>
<line x1="2035.8" y1="1298.36" x2="2048.7" y2="1298.36" stroke="#000" stroke-width="2.8" stroke-linecap="butt"/>
<text transform="translate(2032.6 1308.76) scale(0.95 1)" font-size="30" font-weight="bold" text-anchor="end">0.2</text>
<line x1="2035.8" y1="1208.12" x2="2048.7" y2="1208.12" stroke="#000" stroke-width="2.8" stroke-linecap="butt"/>
<text transform="translate(2032.6 1218.52) scale(0.95 1)" font-size="30" font-weight="bold" text-anchor="end">0.4</text>
<line x1="2035.8" y1="1117.88" x2="2048.7" y2="1117.88" stroke="#000" stroke-width="2.8" stroke-linecap="butt"/>
<text transform="translate(2032.6 1128.28) scale(0.95 1)" font-size="30" font-weight="bold" text-anchor="end">0.6</text>
<line x1="2035.8" y1="1027.64" x2="2048.7" y2="1027.64" stroke="#000" stroke-width="2.8" stroke-linecap="butt"/>
<text transform="translate(2032.6 1038.04) scale(0.95 1)" font-size="30" font-weight="bold" text-anchor="end">0.8</text>
<line x1="2035.8" y1="937.4" x2="2048.7" y2="937.4" stroke="#000" stroke-width="2.8" stroke-linecap="butt"/>
<text transform="translate(2032.6 947.8) scale(0.95 1)" font-size="30" font-weight="bold" text-anchor="end">1.0</text>
<line x1="2090.4" y1="1388.6" x2="2090.4" y2="1401.5" stroke="#000" stroke-width="2.8" stroke-linecap="butt"/>
<text transform="translate(2092.7 1420.3) rotate(-45)" x="0" y="10.82" font-size="32" font-weight="bold" text-anchor="end">1/200</text>
<line x1="2154.7" y1="1388.6" x2="2154.7" y2="1401.5" stroke="#000" stroke-width="2.8" stroke-linecap="butt"/>
<text transform="translate(2157 1420.3) rotate(-45)" x="0" y="10.82" font-size="32" font-weight="bold" text-anchor="end">1/400</text>
<line x1="2219" y1="1388.6" x2="2219" y2="1401.5" stroke="#000" stroke-width="2.8" stroke-linecap="butt"/>
<text transform="translate(2221.3 1420.3) rotate(-45)" x="0" y="10.82" font-size="32" font-weight="bold" text-anchor="end">1/800</text>
<line x1="2326.4" y1="1388.6" x2="2326.4" y2="1401.5" stroke="#000" stroke-width="2.8" stroke-linecap="butt"/>
<text transform="translate(2328.7 1420.3) rotate(-45)" x="0" y="10.82" font-size="32" font-weight="bold" text-anchor="end">1/200</text>
<line x1="2390.6" y1="1388.6" x2="2390.6" y2="1401.5" stroke="#000" stroke-width="2.8" stroke-linecap="butt"/>
<text transform="translate(2392.9 1420.3) rotate(-45)" x="0" y="10.82" font-size="32" font-weight="bold" text-anchor="end">1/400</text>
<line x1="2454.9" y1="1388.6" x2="2454.9" y2="1401.5" stroke="#000" stroke-width="2.8" stroke-linecap="butt"/>
<text transform="translate(2457.2 1420.3) rotate(-45)" x="0" y="10.82" font-size="32" font-weight="bold" text-anchor="end">1/800</text>
<text transform="translate(1981.6 1160.1) rotate(-90)" font-size="27.6" font-weight="bold" text-anchor="middle">OD 490nm</text>
<line x1="2146.5" y1="936.6" x2="2412.4" y2="936.6" stroke="#111" stroke-width="1.4" stroke-linecap="square"/>
<line x1="2146.5" y1="936.6" x2="2146.5" y2="964" stroke="#000" stroke-width="2" stroke-linecap="butt"/>
<line x1="2412.4" y1="936.6" x2="2412.4" y2="965.2" stroke="#000" stroke-width="2" stroke-linecap="butt"/>
<line x1="2077.9" y1="964" x2="2223.1" y2="964" stroke="#000" stroke-width="2" stroke-linecap="butt"/>
<line x1="2343.4" y1="965.4" x2="2489" y2="965.4" stroke="#222" stroke-width="1.4" stroke-linecap="butt"/>
<text transform="translate(2280.85 933.3) scale(0.84 1)" font-size="40" font-weight="bold" text-anchor="middle" letter-spacing="4.4">***</text>
</g>
<circle cx="851.8" cy="1626.6" r="11.9" fill="#fff" stroke="#F7107F" stroke-width="8"/>
<text x="916" y="1641.4" font-size="47.1" text-anchor="start">Combined vaccine</text>
<circle cx="1502.5" cy="1631.9" r="11.9" fill="#fff" stroke="#0A7E99" stroke-width="8"/>
<text x="1567" y="1646.2" font-size="47.5" text-anchor="start">Commercial aP vaccine</text>
</svg></body></html>
